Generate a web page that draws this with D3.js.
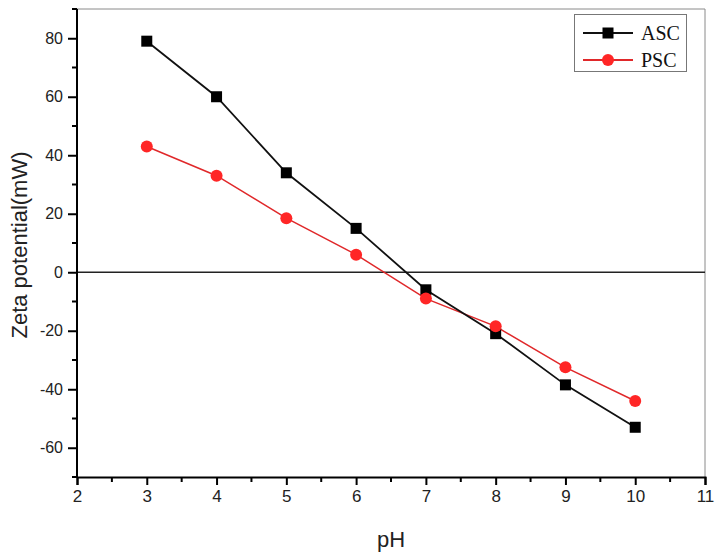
<!DOCTYPE html>
<html>
<head>
<meta charset="utf-8">
<script src="https://cdn.jsdelivr.net/npm/d3@7"></script>
<style>
  html, body { margin: 0; padding: 0; background: #fff; }
</style>
</head>
<body>
<div id="chart"></div>
<script>
const phValues = [3, 4, 5, 6, 7, 8, 9, 10];
const ascValues = [79, 60, 34, 15, -6, -21, -38.5, -53];
const pscValues = [43, 33, 18.5, 6, -9, -18.5, -32.5, -44];
const xTicks = [2, 3, 4, 5, 6, 7, 8, 9, 10, 11];
const yTicks = [-60, -40, -20, 0, 20, 40, 60, 80];
const seriesNames = ['ASC', 'PSC'];

const width = 722, height = 560;
const margin = { l: 77, r: 17, t: 9, b: 83 };

const svg = d3.select('#chart').append('svg')
  .attr('width', width)
  .attr('height', height);

svg.append('rect')
  .attr('width', width)
  .attr('height', height)
  .attr('fill', '#fff');

const x = d3.scaleLinear()
  .domain([2, 11])
  .range([margin.l, width - margin.r]);
const y = d3.scaleLinear()
  .domain([-70, 90])
  .range([height - margin.b, margin.t]);

// frame (top and right)
svg.append('path')
  .attr('d', `M${x(2)},${y(90)} H${x(11)} V${y(-70)}`)
  .attr('fill', 'none')
  .attr('stroke', '#8a8a8a')
  .attr('stroke-width', 1);

// zero line
svg.append('line')
  .attr('x1', x(2)).attr('x2', x(11))
  .attr('y1', y(0)).attr('y2', y(0))
  .attr('stroke', '#222')
  .attr('stroke-width', 1.5);

// minor ticks
const xMinor = d3.range(2.5, 11, 1);
const yMinor = d3.range(-70, 91, 20);

const xAxis = (g) => g
  .attr('transform', `translate(0,${y(-70)})`)
  .call(d3.axisBottom(x).tickValues(xTicks).tickSize(8).tickPadding(5).tickFormat((d) => String(d)))
  .call((gr) => gr.select('.domain').attr('stroke-width', 2))
  .call((gr) => gr.selectAll('.tick line').attr('stroke-width', 2));
svg.append('g').call(xAxis)
  .selectAll('text')
    .style('font-family', '"Liberation Sans", Arial, sans-serif')
    .style('font-size', '17px')
    .attr('fill', '#222');

svg.append('g')
  .selectAll('line')
  .data(xMinor)
    .join('line')
    .attr('x1', (d) => x(d)).attr('x2', (d) => x(d))
    .attr('y1', y(-70)).attr('y2', y(-70) + 5)
    .attr('stroke', '#000')
    .attr('stroke-width', 2);

const yAxis = (g) => g
  .attr('transform', `translate(${x(2)},0)`)
  .call(d3.axisLeft(y).tickValues(yTicks).tickSize(9).tickPadding(5).tickFormat((d) => String(d)))
  .call((gr) => gr.select('.domain').attr('stroke-width', 2).attr('d', `M0,${y(-70)}V${y(90)}`))
  .call((gr) => gr.selectAll('.tick line').attr('stroke-width', 2));
svg.append('g').call(yAxis)
  .selectAll('text')
    .style('font-family', '"Liberation Sans", Arial, sans-serif')
    .style('font-size', '16px')
    .attr('fill', '#222');

svg.append('g')
  .selectAll('line')
  .data(yMinor)
    .join('line')
    .attr('x1', x(2) - 5).attr('x2', x(2))
    .attr('y1', (d) => y(d)).attr('y2', (d) => y(d))
    .attr('stroke', '#000')
    .attr('stroke-width', 2);

// axis titles
svg.append('text')
  .attr('x', (x(2) + x(11)) / 2)
  .attr('y', 547)
  .attr('text-anchor', 'middle')
  .style('font-family', '"Liberation Sans", Arial, sans-serif')
  .style('font-size', '22px')
  .attr('fill', '#222')
  .text('pH');

svg.append('text')
  .attr('transform', `translate(27,245) rotate(-90)`)
  .attr('text-anchor', 'middle')
  .style('font-family', '"Liberation Sans", Arial, sans-serif')
  .style('font-size', '22px')
  .attr('fill', '#222')
  .text('Zeta potential(mW)');

// series
const line = d3.line()
  .x((d) => x(d[0]))
  .y((d) => y(d[1]));

const ascData = phValues.map((p, i) => [p, ascValues[i]]);
const pscData = phValues.map((p, i) => [p, pscValues[i]]);

svg.append('path')
  .datum(pscData)
  .attr('d', line)
  .attr('fill', 'none')
  .attr('stroke', '#e0282a')
  .attr('stroke-width', 1.5);

svg.append('path')
  .datum(ascData)
  .attr('d', line)
  .attr('fill', 'none')
  .attr('stroke', '#111')
  .attr('stroke-width', 1.8);

svg.append('g')
  .selectAll('rect')
  .data(ascData)
    .join('rect')
    .attr('x', (d) => x(d[0]) - 5.5)
    .attr('y', (d) => y(d[1]) - 5.5)
    .attr('width', 11)
    .attr('height', 11)
    .attr('fill', '#000');

svg.append('g')
  .selectAll('circle')
  .data(pscData)
    .join('circle')
    .attr('cx', (d) => x(d[0]))
    .attr('cy', (d) => y(d[1]))
    .attr('r', 6)
    .attr('fill', '#ff2626');

// legend
const legend = svg.append('g').attr('class', 'legend');
legend.append('rect')
  .attr('x', 574.5).attr('y', 14.5)
  .attr('width', 112).attr('height', 57)
  .attr('fill', '#fff')
  .attr('stroke', '#777')
  .attr('stroke-width', 1);

const legendColors = ['#111', '#e0282a'];
seriesNames.forEach((name, i) => {
  const cy = 33 + i * 27;
  legend.append('line')
    .attr('x1', 583).attr('x2', 633)
    .attr('y1', cy).attr('y2', cy)
    .attr('stroke', legendColors[i])
    .attr('stroke-width', 1.8);
  if (i === 0) {
    legend.append('rect')
      .attr('x', 608 - 5.5).attr('y', cy - 5.5)
      .attr('width', 11).attr('height', 11)
      .attr('fill', '#000');
  } else {
    legend.append('circle')
      .attr('cx', 608).attr('cy', cy)
      .attr('r', 6)
      .attr('fill', '#ff2626');
  }
  legend.append('text')
    .attr('x', 641)
    .attr('y', cy + 7)
    .style('font-family', '"Liberation Serif", "Times New Roman", serif')
    .style('font-size', '20px')
    .attr('fill', '#111')
    .text(name);
});
</script>
</body>
</html>
